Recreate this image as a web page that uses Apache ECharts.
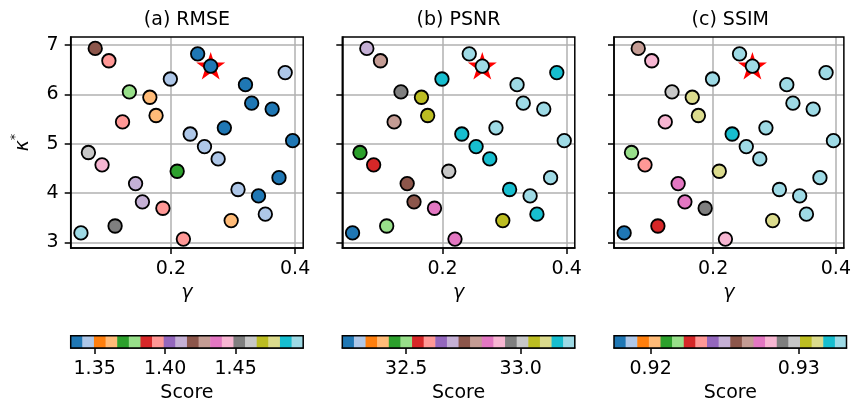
<!DOCTYPE html>
<html style="height: 100%">
<head>
    <meta charset="utf-8">
    <script src="https://cdn.jsdelivr.net/npm/echarts@6/dist/echarts.min.js"></script>
</head>
<body style="height: 100%; margin: 0; background: #fff">
    <div id="main" style="width: 854px; height: 411px"></div>
    <script type="text/javascript">
        // sampled hyper-parameters (same points in every panel)
        var gamma = [0.078, 0.100, 0.199, 0.243, 0.264, 0.133, 0.166, 0.320, 0.384, 0.122, 0.176,
                     0.330, 0.363, 0.231, 0.286, 0.396, 0.254, 0.276, 0.067, 0.089, 0.210, 0.374,
                     0.143, 0.308, 0.341, 0.154, 0.187, 0.352, 0.297, 0.110, 0.055, 0.220];
        var kappa = [6.93, 6.68, 6.31, 6.82, 6.57, 6.05, 5.94, 6.195, 6.44, 5.44, 5.57,
                     5.82, 5.70, 5.195, 5.32, 5.06, 4.94, 4.69, 4.82, 4.57, 4.44, 4.31,
                     4.19, 4.07, 3.94, 3.82, 3.69, 3.57, 3.44, 3.33, 3.19, 3.065];

        // scores per metric
        var rmse = [1.419, 1.395, 1.345, 1.337, 1.333, 1.378, 1.362, 1.338, 1.344, 1.396, 1.361,
                    1.336, 1.339, 1.346, 1.337, 1.340, 1.343, 1.347, 1.461, 1.444, 1.370, 1.338,
                    1.411, 1.345, 1.336, 1.412, 1.394, 1.346, 1.363, 1.452, 1.498, 1.395];
        var psnr = [32.70, 32.80, 33.16, 33.21, 33.236, 32.96, 33.06, 33.20, 33.15, 32.81, 33.05,
                    33.22, 33.20, 33.16, 33.21, 33.19, 33.14, 33.17, 32.45, 32.55, 33.00, 33.21,
                    32.75, 33.16, 33.20, 32.76, 32.85, 33.15, 33.06, 32.50, 32.221, 32.86];
        var ssim = [0.9266, 0.9281, 0.9328, 0.9329, 0.93322, 0.9297, 0.9313, 0.9330, 0.9327, 0.9282, 0.9312,
                    0.9329, 0.9327, 0.9320, 0.9331, 0.9326, 0.9328, 0.9327, 0.9218, 0.9234, 0.9314, 0.9328,
                    0.9273, 0.9327, 0.9329, 0.9274, 0.9289, 0.9326, 0.9313, 0.9226, 0.91753, 0.9281];

        var best = [0.264, 6.58];
        var titles = ['(a) RMSE', '(b) PSNR', '(c) SSIM'];
        var xTicks = [0.2, 0.4];
        var yTicks = [3, 4, 5, 6, 7];
        var scoreTicks = [[1.35, 1.40, 1.45], [32.5, 33.0], [0.92, 0.93]];
        var scoreDigits = [2, 1, 2];

        var tab20 = ['#1f77b4', '#aec7e8', '#ff7f0e', '#ffbb78', '#2ca02c', '#98df8a', '#d62728', '#ff9896',
                     '#9467bd', '#c5b0d5', '#8c564b', '#c49c94', '#e377c2', '#f7b6d2', '#7f7f7f', '#c7c7c7',
                     '#bcbd22', '#dbdb8d', '#17becf', '#9edae5'];

        var scores = [rmse, psnr, ssim];
        var lefts = [70.7, 342.3, 614];
        var plotW = 232.5;
        var font = 'DejaVu Sans';
        var fs = 19;
        var starPath = 'path://M50,0L61.23,34.55L97.55,34.55L68.16,55.9L79.39,90.45L50,69.1L20.61,90.45L31.84,55.9L2.45,34.55L38.77,34.55Z';

        var grids = [], xAxes = [], yAxes = [], series = [], visualMaps = [], graphics = [];
        var tickStyle = {color: '#000', width: 1.5};
        var labelStyle = {color: '#000', fontFamily: font, fontSize: fs};

        scores.forEach(function (vals, p) {
            var vmin = Math.min.apply(null, vals);
            var vmax = Math.max.apply(null, vals);
            var step = (vmax - vmin) / tab20.length;
            var pieces = [], bins = [];
            tab20.forEach(function (c, k) {
                var lo = vmin + k * step;
                var last = k === tab20.length - 1;
                var hi = last ? vmax : vmin + (k + 1) * step;
                pieces.push(last ? {gte: lo, lte: hi, color: c} : {gte: lo, lt: hi, color: c});
                bins.push([lo, hi, k]);
            });

            var g = 2 * p;      // scatter grid
            var cb = 2 * p + 1; // colorbar grid

            grids.push({left: lefts[p], top: 37, width: plotW, height: 211,
                show: true, borderColor: '#000', borderWidth: 1.5, z: 10, backgroundColor: 'transparent'});
            grids.push({left: lefts[p], top: 335.7, width: plotW, height: 12.3,
                show: true, borderColor: '#000', borderWidth: 1.5, z: 10, backgroundColor: 'transparent'});

            xAxes.push({
                type: 'value', gridIndex: g, min: 0.0385, max: 0.413,
                axisLine: {show: true, onZero: false, lineStyle: tickStyle},
                axisTick: {show: true, customValues: xTicks, length: 6, lineStyle: tickStyle},
                axisLabel: Object.assign({customValues: xTicks, margin: 12,
                    formatter: function (v) { return v.toFixed(1); }}, labelStyle),
                splitLine: {show: true, lineStyle: {color: '#b0b0b0', width: 1.5}},
                name: 'γ', nameLocation: 'middle', nameGap: 36,
                nameTextStyle: {color: '#000', fontFamily: font, fontSize: fs, fontStyle: 'italic'}
            });
            yAxes.push({
                type: 'value', gridIndex: g, min: 2.884, max: 7.162,
                axisLine: {show: true, onZero: false, lineStyle: tickStyle},
                axisTick: {show: true, customValues: yTicks, length: 6, lineStyle: tickStyle},
                axisLabel: Object.assign({show: p === 0, customValues: yTicks, margin: 12,
                    formatter: function (v) { return String(v); }}, labelStyle),
                splitLine: {show: true, lineStyle: {color: '#b0b0b0', width: 1.5}},
                name: p === 0 ? '{k|κ}{s|*}' : '', nameLocation: 'middle', nameGap: 34, nameRotate: 90,
                nameTextStyle: {
                    color: '#000',
                    rich: {
                        k: {fontFamily: font, fontSize: fs, fontStyle: 'italic', lineHeight: 28, color: '#000'},
                        s: {fontFamily: font, fontSize: 13, lineHeight: 14, verticalAlign: 'top', color: '#000'}
                    }
                }
            });

            xAxes.push({
                type: 'value', gridIndex: cb, min: vmin, max: vmax,
                axisLine: {show: true, onZero: false, lineStyle: tickStyle},
                axisTick: {show: true, customValues: scoreTicks[p], length: 6, lineStyle: tickStyle},
                axisLabel: Object.assign({customValues: scoreTicks[p], margin: 12,
                    formatter: (function (d) { return function (v) { return v.toFixed(d); }; })(scoreDigits[p])}, labelStyle),
                splitLine: {show: false},
                name: 'Score', nameLocation: 'middle', nameGap: 36,
                nameTextStyle: {color: '#000', fontFamily: font, fontSize: fs}
            });
            yAxes.push({type: 'value', gridIndex: cb, min: 0, max: 1, show: false});

            series.push({
                type: 'scatter', xAxisIndex: g, yAxisIndex: g, z: 1,
                symbol: starPath, symbolKeepAspect: true, symbolSize: 29,
                itemStyle: {color: '#ff0000', opacity: 1},
                data: [best], silent: true
            });
            series.push({
                type: 'scatter', xAxisIndex: g, yAxisIndex: g, z: 2,
                symbolSize: 13.5,
                itemStyle: {borderColor: '#000', borderWidth: 1.8, opacity: 1},
                data: gamma.map(function (x, i) { return [x, kappa[i], vals[i]]; }),
                silent: true
            });
            series.push({
                type: 'custom', xAxisIndex: cb, yAxisIndex: cb, silent: true,
                data: bins,
                renderItem: function (params, api) {
                    var a = api.coord([api.value(0), 1]);
                    var b = api.coord([api.value(1), 0]);
                    return {type: 'rect',
                        shape: {x: a[0], y: a[1], width: b[0] - a[0] + 0.5, height: b[1] - a[1]},
                        style: {fill: tab20[api.value(2)]}};
                }
            });
            visualMaps.push({type: 'piecewise', show: false, seriesIndex: 3 * p + 1, dimension: 2, pieces: pieces});

            graphics.push({
                type: 'text', x: lefts[p] + plotW / 2, y: 20,
                style: {text: titles[p], fill: '#000', font: fs + 'px "DejaVu Sans"',
                    textAlign: 'center', textVerticalAlign: 'middle'}
            });
        });

        var myChart = echarts.init(document.getElementById('main'), null, {renderer: 'canvas'});
        myChart.setOption({
            backgroundColor: '#fff',
            animation: false,
            grid: grids,
            xAxis: xAxes,
            yAxis: yAxes,
            visualMap: visualMaps,
            series: series,
            graphic: graphics
        });
    </script>
</body>
</html>
